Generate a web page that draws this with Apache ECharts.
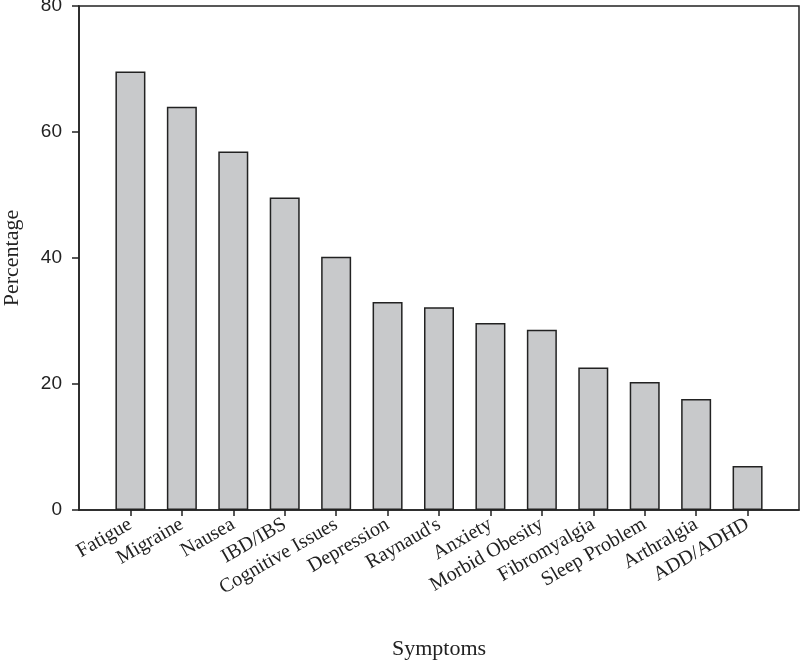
<!DOCTYPE html>
<html>
<head>
<meta charset="utf-8">
<script src="https://cdn.jsdelivr.net/npm/echarts@6/dist/echarts.min.js"></script>
<style>html,body{margin:0;padding:0;background:#fff;}#c{width:800px;height:661px;}</style>
</head>
<body>
<div id="c"></div>
<script>
const categories = ["Fatigue","Migraine","Nausea","IBD/IBS","Cognitive Issues","Depression","Raynaud's","Anxiety","Morbid Obesity","Fibromyalgia","Sleep Problem","Arthralgia","ADD/ADHD"];
const percentages = [69.6, 64.0, 56.9, 49.6, 40.2, 33.0, 32.2, 29.7, 28.6, 22.6, 20.3, 17.6, 7.0];
const yTicks = [0, 20, 40, 60, 80];

const positions = categories.map((c, i) => i + 1);
const chart = echarts.init(document.getElementById('c'), null, {renderer: 'canvas'});
chart.setOption({
  animation: false,
  backgroundColor: '#fff',
  grid: {left: 79, top: 6, right: 1, bottom: 151, show: true, borderColor: '#222', borderWidth: 1.5,
    backgroundColor: 'transparent', containLabel: false, outerBoundsMode: 'none'},
  xAxis: {
    type: 'value', min: 0, max: categories.length + 1, interval: 1,
    name: 'Symptoms', nameLocation: 'middle', nameGap: 128,
    nameTextStyle: {fontFamily: 'Liberation Serif', fontSize: 22, color: '#222'},
    axisLine: {show: true, lineStyle: {color: '#222', width: 1.5}},
    axisTick: {show: true, length: 6, lineStyle: {color: '#222', width: 1.5}, customValues: positions},
    axisLabel: {
      customValues: positions, rotate: 30, margin: 13,
      fontFamily: 'Liberation Serif', fontSize: 20, color: '#222',
      formatter: v => categories[Math.round(v) - 1] || ''
    },
    splitLine: {show: false}
  },
  yAxis: {
    type: 'value', min: 0, max: 80, interval: 20,
    name: 'Percentage', nameLocation: 'middle', nameGap: 56,
    nameTextStyle: {fontFamily: 'Liberation Serif', fontSize: 22, color: '#222'},
    axisLine: {show: true, lineStyle: {color: '#222', width: 1.5}},
    axisTick: {show: true, length: 7, lineStyle: {color: '#222', width: 1.5}},
    axisLabel: {margin: 17, fontFamily: 'Liberation Sans', fontSize: 19, color: '#222',
      formatter: v => yTicks.includes(v) ? String(v) : ''},
    splitLine: {show: false}
  },
  series: [{
    type: 'bar',
    barWidth: 30,
    data: percentages.map((v, i) => [positions[i], v]),
    itemStyle: {color: '#c8c9cb', borderColor: '#222', borderWidth: 1.5}
  }]
});
</script>
</body>
</html>
